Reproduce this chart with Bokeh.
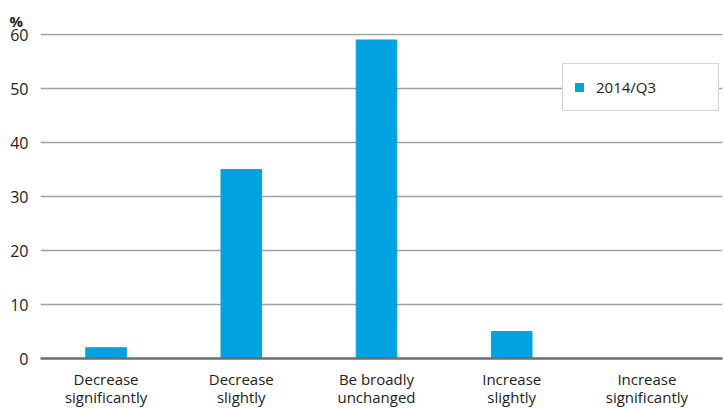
from bokeh.plotting import figure
from bokeh.models import Legend, LegendItem, FixedTicker, Range1d, ColumnDataSource
from bokeh.embed import file_html
from bokeh.resources import INLINE

categories = ["Decrease\nsignificantly", "Decrease\nslightly", "Be broadly\nunchanged",
              "Increase\nslightly", "Increase\nsignificantly"]
values_2014q3 = [2, 35, 59, 5, 0]
series_name = "2014/Q3"
y_ticks = [0, 10, 20, 30, 40, 50, 60]

FONT = "Open Sans"
BAR = "#00A3E0"

xs = list(range(len(categories)))
src = ColumnDataSource(dict(x=xs, top=values_2014q3))

p = figure(frame_width=682, frame_height=325, output_backend="svg", toolbar_location=None,
           x_range=Range1d(-0.485, 4.559), y_range=Range1d(0, 60.2),
           min_border_left=40, min_border_right=2, min_border_top=33, min_border_bottom=50)
p.outline_line_color = None
p.background_fill_color = "white"

p.title.text = "%"
p.title.align = "left"
p.title.offset = -31
p.title.standoff = 6
p.title.text_font = FONT
p.title.text_font_size = "15px"
p.title.text_font_style = "bold"
p.title.text_color = "#222222"

r = p.vbar(x="x", top="top", width=0.30, source=src, color=BAR)

p.xaxis.ticker = FixedTicker(ticks=xs)
p.xaxis.major_label_overrides = {i: c for i, c in enumerate(categories)}
p.xaxis.major_tick_line_color = None
p.xaxis.major_tick_out = 0
p.xaxis.major_tick_in = 0
p.xaxis.minor_tick_line_color = None
p.xaxis.axis_line_color = "#6e6e6e"
p.xaxis.axis_line_width = 2.5
p.xaxis.major_label_text_font = FONT
p.xaxis.major_label_text_font_size = "15px"
p.xaxis.major_label_text_color = "#222222"
p.xaxis.major_label_text_line_height = 0.9
p.xaxis.major_label_standoff = 10

p.yaxis.ticker = FixedTicker(ticks=y_ticks)
p.yaxis.axis_line_color = None
p.yaxis.major_tick_line_color = None
p.yaxis.major_tick_out = 0
p.yaxis.major_tick_in = 0
p.yaxis.minor_tick_line_color = None
p.yaxis.major_label_text_font = FONT
p.yaxis.major_label_text_font_size = "16px"
p.yaxis.major_label_text_color = "#222222"
p.yaxis.major_label_standoff = 12

p.xgrid.grid_line_color = None
p.ygrid.grid_line_color = "#a0a0a0"
p.ygrid.grid_line_width = 1.5

legend = Legend(items=[LegendItem(label=series_name, renderers=[r])],
                location=(522, 247), margin=0, padding=11,
                glyph_width=10, glyph_height=10, label_standoff=12,
                label_width=111, label_height=24,
                label_text_font=FONT, label_text_font_size="15px", label_text_color="#222222",
                border_line_color="#aaaaaa", border_line_width=1.5,
                background_fill_color="white", background_fill_alpha=1.0)
p.add_layout(legend)

open("out.html", "w").write(file_html(p, INLINE))
